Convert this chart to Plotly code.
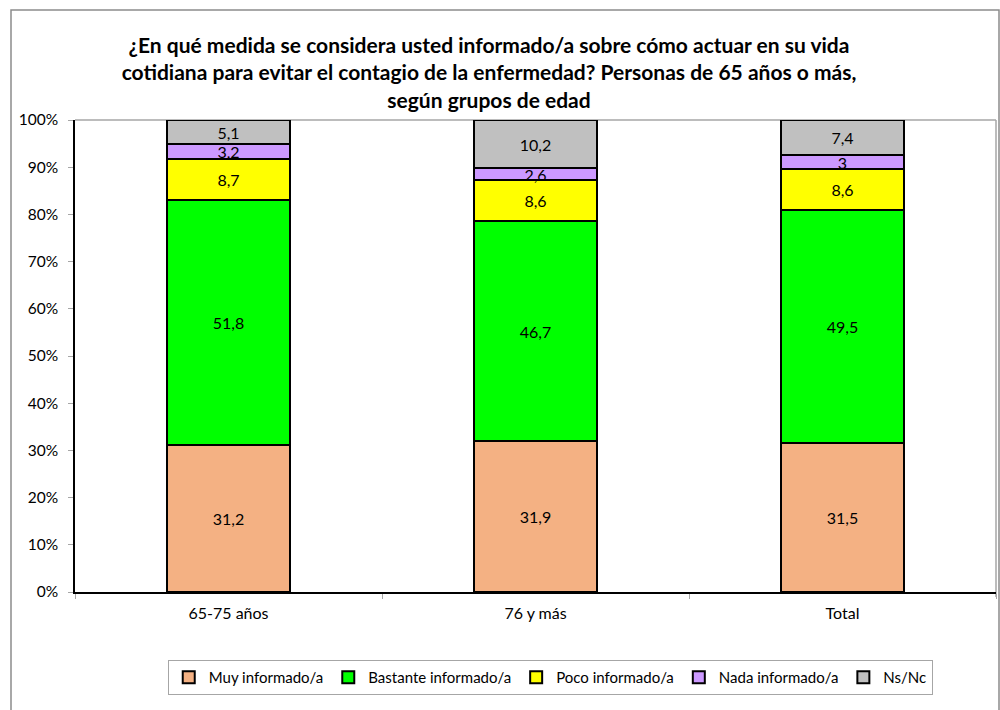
import plotly.graph_objects as go

# Survey data: share of respondents (%) by age group
categories = ["65-75 años", "76 y más", "Total"]
series_names = ["Muy informado/a", "Bastante informado/a", "Poco informado/a",
                "Nada informado/a", "Ns/Nc"]
muy = [31.2, 31.9, 31.5]
bastante = [51.8, 46.7, 49.5]
poco = [8.7, 8.6, 8.6]
nada = [3.2, 2.6, 3.0]
nsnc = [5.1, 10.2, 7.4]
y_ticks = [0, 10, 20, 30, 40, 50, 60, 70, 80, 90, 100]

series_values = [muy, bastante, poco, nada, nsnc]
colors = ["#F4B183", "#00FF00", "#FFFF00", "#CC99FF", "#C0C0C0"]

FONT = "Lato, Carlito, 'Liberation Sans', sans-serif"


def fmt(v):
    return f"{v:g}".replace(".", ",")


fig = go.Figure()
for name, vals, col in zip(series_names, series_values, colors):
    fig.add_trace(go.Bar(
        x=categories,
        y=vals,
        name=name,
        marker=dict(color=col, line=dict(color="black", width=2)),
        text=[fmt(v) for v in vals],
        textposition="inside",
        insidetextanchor="middle",
        textangle=0,
        textfont=dict(family=FONT, size=16, color="black"),
        hoverinfo="skip",
    ))

# plot-area geometry in pixels (for placing the outer frame)
L, R, T, B = 75, 4, 120, 118
W, H = 1000, 710
pw, ph = W - L - R, H - T - B


def px_x(x):
    return (x - L) / pw


def px_y(y):
    return (H - B - y) / ph


fig.update_layout(
    width=W, height=H,
    barmode="stack",
    bargap=0.6,
    margin=dict(l=L, r=R, t=T, b=B),
    paper_bgcolor="white",
    plot_bgcolor="white",
    font=dict(family=FONT, size=15, color="black"),
    uniformtext=dict(minsize=16, mode="show"),
    title=dict(
        text="¿En qué medida se considera usted informado/a sobre cómo actuar en su vida<br>"
             "cotidiana para evitar el contagio de la enfermedad? Personas de 65 años o más,<br>"
             "según grupos de edad",
        x=0.489, xanchor="center", xref="container",
        y=1 - 53 / H, yanchor="top", yref="container",
        font=dict(family=FONT, size=21, color="black", weight="bold"),
    ),
    legend=dict(
        orientation="h",
        x=0.516, xanchor="center",
        y=px_y(660), yanchor="top",
        bordercolor="#A6A6A6", borderwidth=1,
        bgcolor="white",
        font=dict(family=FONT, size=15, color="black"),
        traceorder="normal",
        itemwidth=30,
    ),
    xaxis=dict(
        showline=True, linecolor="black", linewidth=1.5,
        ticks="outside", tickson="boundaries", ticklen=5, tickcolor="#A6A6A6",
        tickfont=dict(family=FONT, size=16, color="black"),
        ticklabelstandoff=6,
        showgrid=False,
    ),
    yaxis=dict(
        range=[0, 100],
        tickvals=y_ticks,
        ticktext=[f"{t}%" for t in y_ticks],
        showline=True, linecolor="black", linewidth=1.5,
        ticks="outside", ticklen=5, tickcolor="#A6A6A6",
        tickfont=dict(family=FONT, size=15.5, color="black"),
        ticklabelstandoff=7,
        showgrid=False, zeroline=False,
    ),
    shapes=[
        # plot-area border (top and right edges)
        dict(type="line", xref="paper", yref="paper", x0=0, x1=1, y0=1, y1=1,
             line=dict(color="#A6A6A6", width=1.5), layer="below"),
        dict(type="line", xref="paper", yref="paper", x0=1, x1=1, y0=px_y(597), y1=1,
             line=dict(color="#A6A6A6", width=1.5), layer="below"),
        # outer chart frame
        dict(type="rect", xref="paper", yref="paper",
             x0=px_x(11), x1=px_x(999), y0=px_y(720), y1=px_y(10),
             line=dict(color="#8C8C8C", width=1.5), layer="below"),
    ],
)

fig.write_html("out.html")
